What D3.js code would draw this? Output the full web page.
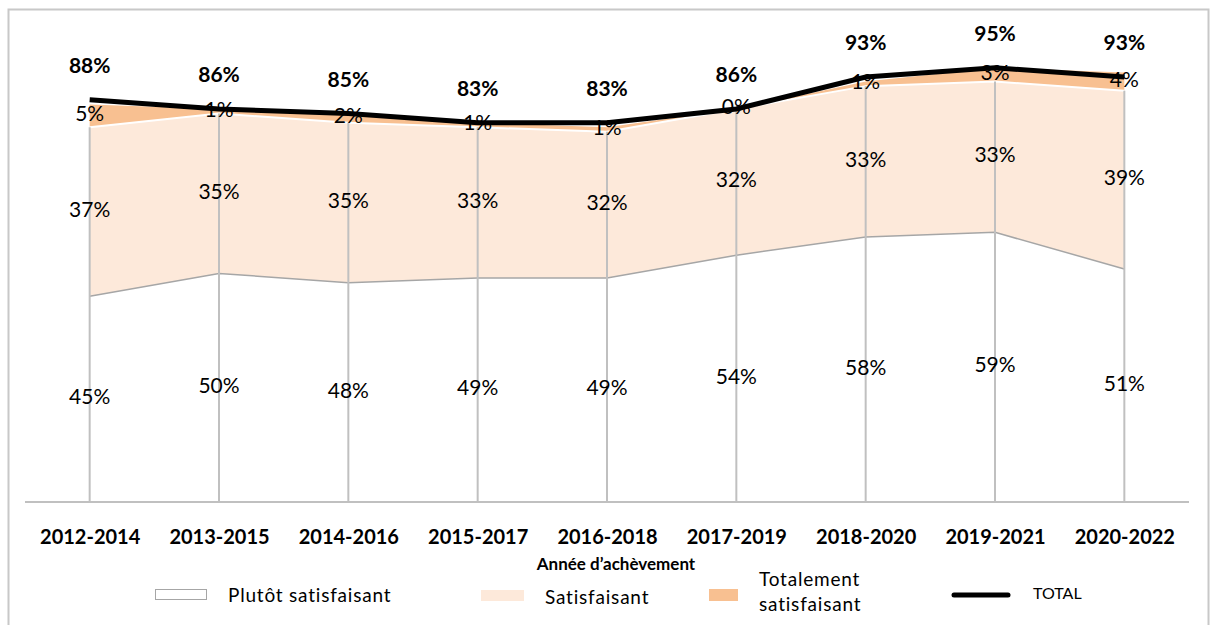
<!DOCTYPE html>
<html>
<head>
<meta charset="utf-8">
<script src="https://cdn.jsdelivr.net/npm/d3@7"></script>
<style>
  body { margin: 0; background: #fff; }
  svg { font-family: Lato, "Open Sans", sans-serif; }
</style>
</head>
<body>
<div id="chart"></div>
<script>
// data
var periods = ["2012-2014", "2013-2015", "2014-2016", "2015-2017", "2016-2018", "2017-2019", "2018-2020", "2019-2021", "2020-2022"];
var plutot = [45, 50, 48, 49, 49, 54, 58, 59, 51];
var satisfaisant = [37, 35, 35, 33, 32, 32, 33, 33, 39];
var totalement = [5, 1, 2, 1, 1, 0, 1, 3, 4];
var total = [88, 86, 85, 83, 83, 86, 93, 95, 93];

function doChart(element)
{
  var width = 1213,
      height = 625;

  var svg = d3.select(element)
    .append("svg")
      .attr("width", width)
      .attr("height", height);

  // chart frame
  svg.append("rect")
    .attr("x", 8.5).attr("y", 9.5)
    .attr("width", 1200).attr("height", 640)
    .attr("fill", "none")
    .attr("stroke", "#c8c8c8")
    .attr("stroke-width", 2);

  var x = d3.scalePoint()
    .domain(periods)
    .range([25, 1189])
    .padding(0.5);

  var y = d3.scaleLinear()
    .domain([0, 100])
    .range([502, 45]);

  var rows = periods.map(function(p, i) {
    return { period: p, plutot: plutot[i], satisfaisant: satisfaisant[i], totalement: totalement[i], total: total[i] };
  });

  var stack = d3.stack().keys(["plutot", "satisfaisant", "totalement"]);
  var series = stack(rows);

  var area = d3.area()
    .x(function(d) { return x(d.data.period); })
    .y0(function(d) { return y(d[0]); })
    .y1(function(d) { return y(d[1]); });

  var fills = { plutot: "#ffffff", satisfaisant: "#fde9da", totalement: "#f8c091" };

  // areas, top one first so the white edge of "satisfaisant" sits on it
  svg.append("path")
    .attr("d", area(series[2]))
    .attr("fill", fills.totalement);

  svg.append("path")
    .attr("d", area(series[1]))
    .attr("fill", fills.satisfaisant);

  svg.append("path")
    .attr("d", d3.line()
      .x(function(d) { return x(d.data.period); })
      .y(function(d) { return y(d[1]); })(series[1]))
    .attr("fill", "none")
    .attr("stroke", "#ffffff")
    .attr("stroke-width", 2);

  svg.append("path")
    .attr("d", area(series[0]))
    .attr("fill", fills.plutot);

  svg.append("path")
    .attr("d", d3.line()
      .x(function(d) { return x(d.data.period); })
      .y(function(d) { return y(d[1]); })(series[0]))
    .attr("fill", "none")
    .attr("stroke", "#a6a6a6")
    .attr("stroke-width", 1.5);

  // drop lines
  svg.selectAll(".drop")
    .data(series[1])
    .enter()
    .append("line")
    .attr("x1", function(d) { return x(d.data.period); })
    .attr("x2", function(d) { return x(d.data.period); })
    .attr("y1", function(d) { return y(d[1]); })
    .attr("y2", y(0))
    .attr("stroke", "#c0c0c0")
    .attr("stroke-width", 2);

  // baseline axis
  var xAxis = svg.append("g")
    .attr("transform", `translate(0,${y(0)})`)
    .call(d3.axisBottom(x).tickSize(0).tickPadding(28));
  xAxis.select(".domain")
    .attr("d", "M25,0H1189")
    .attr("stroke", "#c0c0c0")
    .attr("stroke-width", 2);
  xAxis.selectAll("text")
    .attr("font-family", "Lato, sans-serif")
    .attr("font-size", 20)
    .attr("font-weight", "bold")
    .attr("fill", "#000");

  // total line
  svg.append("path")
    .attr("d", d3.line()
      .x(function(d) { return x(d.period); })
      .y(function(d) { return y(d.total); })(rows))
    .attr("fill", "none")
    .attr("stroke", "#000")
    .attr("stroke-width", 5);

  // segment labels
  series.forEach(function(s) {
    svg.selectAll(".lbl-" + s.key)
      .data(s)
      .enter()
      .append("text")
      .attr("x", function(d) { return x(d.data.period); })
      .attr("y", function(d) { return y((d[0] + d[1]) / 2); })
      .attr("text-anchor", "middle")
      .attr("dominant-baseline", "middle")
      .attr("font-size", 21)
      .attr("fill", "#000")
      .text(function(d) { return d.data[s.key] + "%"; });
  });

  svg.selectAll(".lbl-total")
    .data(rows)
    .enter()
    .append("text")
    .attr("x", function(d) { return x(d.period); })
    .attr("y", function(d) { return y(d.total) - 32; })
    .attr("text-anchor", "middle")
    .attr("dominant-baseline", "middle")
    .attr("font-size", 21)
    .attr("font-weight", "bold")
    .text(function(d) { return d.total + "%"; });

  // axis title
  svg.append("text")
    .attr("x", 616).attr("y", 566)
    .attr("text-anchor", "middle")
    .attr("dominant-baseline", "middle")
    .attr("font-size", 17)
    .attr("font-weight", "bold")
    .text("Année d’achèvement");

  // legend
  var leg = svg.append("g")
    .attr("font-size", 19)
    .attr("letter-spacing", 0.8);

  leg.append("rect")
    .attr("x", 155.5).attr("y", 589.5).attr("width", 51).attr("height", 10)
    .attr("fill", "#fff").attr("stroke", "#a6a6a6").attr("stroke-width", 1);
  leg.append("text")
    .attr("x", 228).attr("y", 597).attr("dominant-baseline", "middle")
    .text("Plutôt satisfaisant");

  leg.append("rect")
    .attr("x", 481).attr("y", 590).attr("width", 43).attr("height", 11)
    .attr("fill", fills.satisfaisant);
  leg.append("text")
    .attr("x", 545).attr("y", 599).attr("dominant-baseline", "middle")
    .text("Satisfaisant");

  leg.append("rect")
    .attr("x", 709).attr("y", 589).attr("width", 29).attr("height", 12)
    .attr("fill", fills.totalement);
  leg.append("text")
    .attr("x", 759).attr("y", 581).attr("dominant-baseline", "middle")
    .text("Totalement");
  leg.append("text")
    .attr("x", 759).attr("y", 606).attr("dominant-baseline", "middle")
    .text("satisfaisant");

  leg.append("line")
    .attr("x1", 954).attr("x2", 1008).attr("y1", 595).attr("y2", 595)
    .attr("stroke", "#000").attr("stroke-width", 5).attr("stroke-linecap", "round");
  leg.append("text")
    .attr("x", 1033).attr("y", 595).attr("dominant-baseline", "middle")
    .attr("font-size", 16)
    .attr("letter-spacing", 0)
    .text("TOTAL");
}

doChart("#chart");
</script>
</body>
</html>
